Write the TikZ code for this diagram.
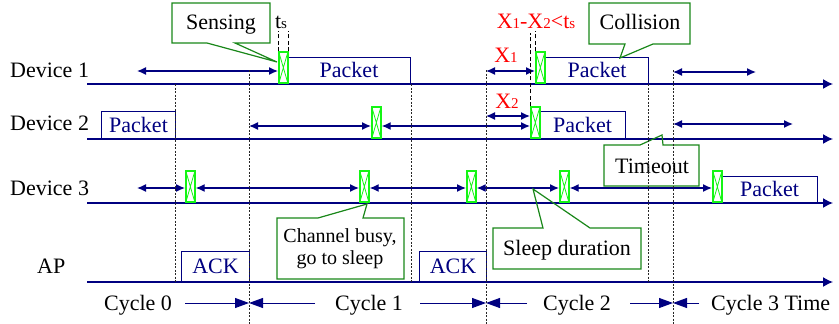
\documentclass[tikz,border=0pt]{standalone}
\usepackage{fontspec}
\setmainfont{Liberation Serif}
\usetikzlibrary{arrows.meta}

\definecolor{tlnavy}{RGB}{0,0,128}
\definecolor{senselime}{RGB}{20,245,20}
\definecolor{notegreen}{RGB}{25,135,25}

\newcommand{\lowsize}[1]{{\fontsize{15}{15}\selectfont #1}}

\begin{document}
\begin{tikzpicture}[x=1pt, y=-1pt,
    font=\fontsize{22}{24}\selectfont,
    timeline/.style={tlnavy, line width=1.4pt, -{Latex[length=10pt, width=10pt]}},
    gap/.style={tlnavy, line width=1.3pt, {Latex[length=9pt, width=8pt]}-{Latex[length=9pt, width=8pt]}},
    cyclearrow/.style={tlnavy, line width=0.9pt, -{Triangle[length=14pt, width=10pt]}},
    cut/.style={black!85, line width=0.6pt, dash pattern=on 2pt off 1.5pt},
    tsline/.style={black, line width=1pt, dash pattern=on 4pt off 2.5pt},
    packet/.style={draw=tlnavy, line width=1.1pt, text=tlnavy, inner sep=0pt, anchor=south west},
    sensebox/.style={draw=senselime, line width=1.7pt, minimum width=9pt, minimum height=31pt,
        inner sep=0pt, anchor=south west,
        path picture={\draw[senselime, line width=0.8pt]
            (path picture bounding box.north west) -- (path picture bounding box.south east)
            (path picture bounding box.north east) -- (path picture bounding box.south west);}},
    note/.style={draw=notegreen, line width=1.2pt, line join=miter},
    tag/.style={inner sep=0pt, anchor=base}]

    \useasboundingbox (0,0) rectangle (839,324);

    % Rows for the gap arrows
    \coordinate (r1) at (0,71);
    \coordinate (r2) at (0,126);
    \coordinate (r3) at (0,188);
    \coordinate (x2row) at (0,116);

    % Time lines
    \draw[timeline] (87,84) -- (833,84);
    \draw[timeline] (87,139) -- (833,139);
    \draw[timeline] (87,203) -- (833,203);
    \draw[timeline] (87,282) -- (833,282);

    \node[tag, anchor=base west] (dev1) at (10,77) {Device 1};
    \node[tag, anchor=base west] (dev2) at (10,130) {Device 2};
    \node[tag, anchor=base west] (dev3) at (10,195) {Device 3};
    \node[tag, anchor=base west] (ap) at (37,273) {AP};

    % Packets and acks
    \node[packet, minimum width=123pt, minimum height=26pt] (pk1a) at (287,84) {Packet};
    \node[packet, minimum width=103pt, minimum height=26pt] (pk1b) at (545,84) {Packet};
    \node[packet, minimum width=74pt, minimum height=27pt] (pk2a) at (101,139) {Packet};
    \node[packet, minimum width=86pt, minimum height=27pt] (pk2b) at (539,139) {Packet};
    \node[packet, minimum width=96pt, minimum height=26pt] (pk3) at (721,203) {Packet};
    \node[packet, minimum width=68pt, minimum height=30pt] (ack0) at (181,282) {ACK};
    \node[packet, minimum width=67pt, minimum height=30pt] (ack1) at (419,282) {ACK};

    % Sensing slots
    \node[sensebox] (s1a) at (278,84) {};
    \node[sensebox] (s1b) at (535,84) {};
    \node[sensebox] (s2a) at (371,139) {};
    \node[sensebox] (s2b) at (530,139) {};
    \node[sensebox] (s3a) at (185,203) {};
    \node[sensebox] (s3b) at (359,203) {};
    \node[sensebox] (s3c) at (466,203) {};
    \node[sensebox] (s3d) at (559,203) {};
    \node[sensebox] (s3e) at (712,203) {};

    % Back-off gaps
    \draw[gap] (137,71) -- (s1a.west |- r1);
    \draw[gap] (486,71) -- (s1b.west |- r1);
    \draw[gap] (673,72) -- (756,72);

    \draw[gap] (249,126) -- (s2a.west |- r2);
    \draw[gap] (s2a.east |- r2) -- (s2b.west |- r2);
    \draw[gap] (486,116) -- (s2b.west |- x2row);
    \draw[gap] (673,124) -- (793,124);

    \draw[gap] (137,188) -- (s3a.west |- r3);
    \draw[gap] (s3a.east |- r3) -- (s3b.west |- r3);
    \draw[gap] (s3b.east |- r3) -- (s3c.west |- r3);
    \draw[gap] (s3c.east |- r3) -- (s3d.west |- r3);
    \draw[gap] (s3d.east |- r3) -- (s3e.west |- r3);

    % Sensing time and collision window
    \draw[tsline] (s1a.north west) -- ++(0,-20);
    \draw[tsline] (s1a.north east) -- ++(0,-20);
    \node[tag] (ts) at (281,28) {t\lowsize{s}};

    \draw[tsline] (s2b.north west) -- (530,33);
    \draw[tsline] (s1b.north west) -- ++(0,-20);
    \node[tag, text=red] (cond) at (536,28) {X\lowsize{1}-X\lowsize{2}<t\lowsize{s}};
    \node[tag, text=red] (x1) at (506,62) {X\lowsize{1}};
    \node[tag, text=red] (x2) at (507,108) {X\lowsize{2}};

    % Notes
    \draw[note] (172,3) -- (270,3) -- (270,43) -- (235,43) -- (277,62) -- (207,43)
        -- (172,43) -- cycle;
    \node[tag] (sensing) at (221,29) {Sensing};

    \draw[note] (589,3) -- (690,3) -- (690,44) -- (653,44) -- (620,58) -- (625,44)
        -- (589,44) -- cycle;
    \node[tag] (collision) at (640,30) {Collision};

    \draw[note] (604,145) -- (640,145) -- (662,135) -- (663,145) -- (699,145)
        -- (699,186) -- (604,186) -- cycle;
    \node[tag] (timeout) at (652,173) {Timeout};

    \draw[note] (277,218) -- (318,218) -- (367,204) -- (363,218) -- (404,218)
        -- (404,279) -- (277,279) -- cycle;
    \node[align=center, font=\fontsize{20}{22}\selectfont, inner sep=0pt] (busy)
        at (340,249) {Channel busy,\\go to sleep};

    \draw[note] (493,228) -- (543,228) -- (533,189) -- (590,228) -- (641,228)
        -- (641,269) -- (493,269) -- cycle;
    \node[tag] (sleep) at (567,255) {Sleep duration};

    % Cycle boundaries
    \draw[cut] (175,84) -- (175,282);
    \draw[cut] (249,70) -- (249,324);
    \draw[cut] (411,84) -- (411,282);
    \draw[cut] (486,70) -- (486,324);
    \draw[cut] (648,84) -- (648,282);
    \draw[cut] (673,70) -- (673,324);

    \coordinate (b1) at (249,303);
    \coordinate (b2) at (486,303);
    \coordinate (b3) at (673,303);

    \node[tag] (cyc0) at (138,310) {Cycle 0};
    \node[tag] (cyc1) at (369,310) {Cycle 1};
    \node[tag] (cyc2) at (577,310) {Cycle 2};
    \node[tag, anchor=base west] (cyc3) at (711,310) {Cycle 3 Time};

    \draw[cyclearrow] (185,303) -- (b1);
    \draw[cyclearrow] (315,303) -- (b1);
    \draw[cyclearrow] (420,303) -- (b2);
    \draw[cyclearrow] (527,303) -- (b2);
    \draw[cyclearrow] (630,303) -- (b3);
    \draw[cyclearrow] (699,303) -- (b3);
\end{tikzpicture}
\end{document}
